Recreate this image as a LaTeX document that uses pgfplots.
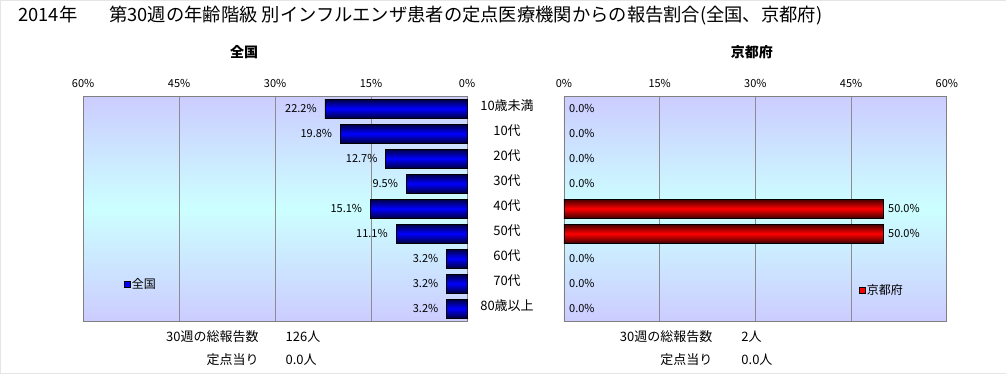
\documentclass[border=0pt]{standalone}
\usepackage{fontspec}
\setmainfont{Noto Sans CJK JP}
\usepackage{pgfplots}
\pgfplotsset{compat=1.18}
\definecolor{lav}{HTML}{CCCCFF}
\definecolor{cyl}{HTML}{CCFFFF}
\definecolor{gridc}{HTML}{8C8C8C}
\definecolor{dblue}{HTML}{000040}
\definecolor{dred}{HTML}{400000}
\pgfplotsset{
  common/.style={
    scale only axis, width=384pt, height=225pt,
    xbar, bar shift=0pt, bar width=19pt,
    xmin=0, xmax=60, ymin=0.5, ymax=9.5, y dir=reverse,
    xtick={0,15,30,45,60},
    xticklabels={0\%,15\%,30\%,45\%,60\%},
    xticklabel pos=upper,
    xticklabel style={font=\fontsize{11}{11}\selectfont, yshift=5pt},
    major tick length=0pt,
    xmajorgrids, grid style={gridc, line width=0.8pt},
    axis line style={gray, line width=0.8pt},
    axis background/.style={shade, top color=lav, bottom color=lav, middle color=cyl},
    nodes near coords={\pgfmathprintnumber[fixed,fixed zerofill,precision=1]{\pgfplotspointmeta}\%},
    every node near coord/.append style={font=\fontsize{11}{11}\selectfont, black},
    legend style={draw=none, fill=none, font=\fontsize{12}{12}\selectfont, inner sep=0pt},
    /pgf/number format/assume math mode=true,
    clip=false,
  },
  bbar/.style={draw=black, line width=0.6pt, top color=dblue, bottom color=dblue, middle color=blue, forget plot},
  rbar/.style={draw=black, line width=0.6pt, top color=dred, bottom color=dred, middle color=red, forget plot, nodes near coords={}},
}
\begin{document}
\begin{tikzpicture}[x=1pt,y=1pt]
\path[draw=gray!20, fill=white] (0,0) rectangle (1006,373);
\node[anchor=west, inner sep=0pt, font=\fontsize{18.3}{18.3}\selectfont] at (18,358) {2014年\hspace{32pt}第30週の年齢階級 別インフルエンザ患者の定点医療機関からの報告割合(全国、京都府)};
\node[font=\fontsize{14}{14}\selectfont\bfseries] at (244,321) {全国};
\node[font=\fontsize{14}{14}\selectfont\bfseries] at (752,321) {京都府};

\begin{axis}[common, at={(83pt,52pt)}, anchor=south west,
  x dir=reverse,
  ytick={1,2,3,4,5,6,7,8,9},
  yticklabels={10歳未満,10代,20代,30代,40代,50代,60代,70代,80歳以上},
  yticklabel pos=right,
  yticklabel style={anchor=center, xshift=40pt, yshift=3pt, font=\fontsize{13}{13}\selectfont},
  every node near coord/.append style={anchor=east, inner sep=1pt, xshift=-7pt},
  legend style={at={(axis description cs:0.15,0.164)}, anchor=center},
]
\addlegendimage{legend image code/.code={\draw[black, fill=blue, line width=0.4pt] (0pt,-3pt) rectangle (6pt,3pt);}}
\addlegendentry{全国}
\addplot[bbar] coordinates {(22.2,1)};
\addplot[bbar] coordinates {(19.8,2)};
\addplot[bbar] coordinates {(12.7,3)};
\addplot[bbar] coordinates {(9.5,4)};
\addplot[bbar] coordinates {(15.1,5)};
\addplot[bbar] coordinates {(11.1,6)};
\addplot[bbar] coordinates {(3.2,7)};
\addplot[bbar] coordinates {(3.2,8)};
\addplot[bbar] coordinates {(3.2,9)};
\end{axis}

\begin{axis}[common, at={(564pt,52pt)}, anchor=south west, width=383pt,
  ytick=\empty,
  every node near coord/.append style={anchor=west, inner sep=1pt, xshift=4pt},
  legend style={at={(axis description cs:0.83,0.138)}, anchor=center},
]
\addlegendimage{legend image code/.code={\draw[black, fill=red, line width=0.4pt] (0pt,-3pt) rectangle (6pt,3pt);}}
\addlegendentry{京都府}
\addplot[draw=none, fill=none, forget plot] coordinates {
(0,1) (0,2) (0,3) (0,4) (50,5) (50,6) (0,7) (0,8) (0,9)};
\addplot[rbar] coordinates {(50,5)};
\addplot[rbar] coordinates {(50,6)};
\end{axis}

\node[anchor=east, font=\fontsize{13}{13}\selectfont] at (262,36) {30週の総報告数};
\node[anchor=west, font=\fontsize{13}{13}\selectfont] at (282,36) {126人};
\node[anchor=east, font=\fontsize{13}{13}\selectfont] at (262,13) {定点当り};
\node[anchor=west, font=\fontsize{13}{13}\selectfont] at (282,13) {0.0人};
\node[anchor=east, font=\fontsize{13}{13}\selectfont] at (716,36) {30週の総報告数};
\node[anchor=west, font=\fontsize{13}{13}\selectfont] at (738,36) {2人};
\node[anchor=east, font=\fontsize{13}{13}\selectfont] at (716,13) {定点当り};
\node[anchor=west, font=\fontsize{13}{13}\selectfont] at (738,13) {0.0人};
\end{tikzpicture}
\end{document}
